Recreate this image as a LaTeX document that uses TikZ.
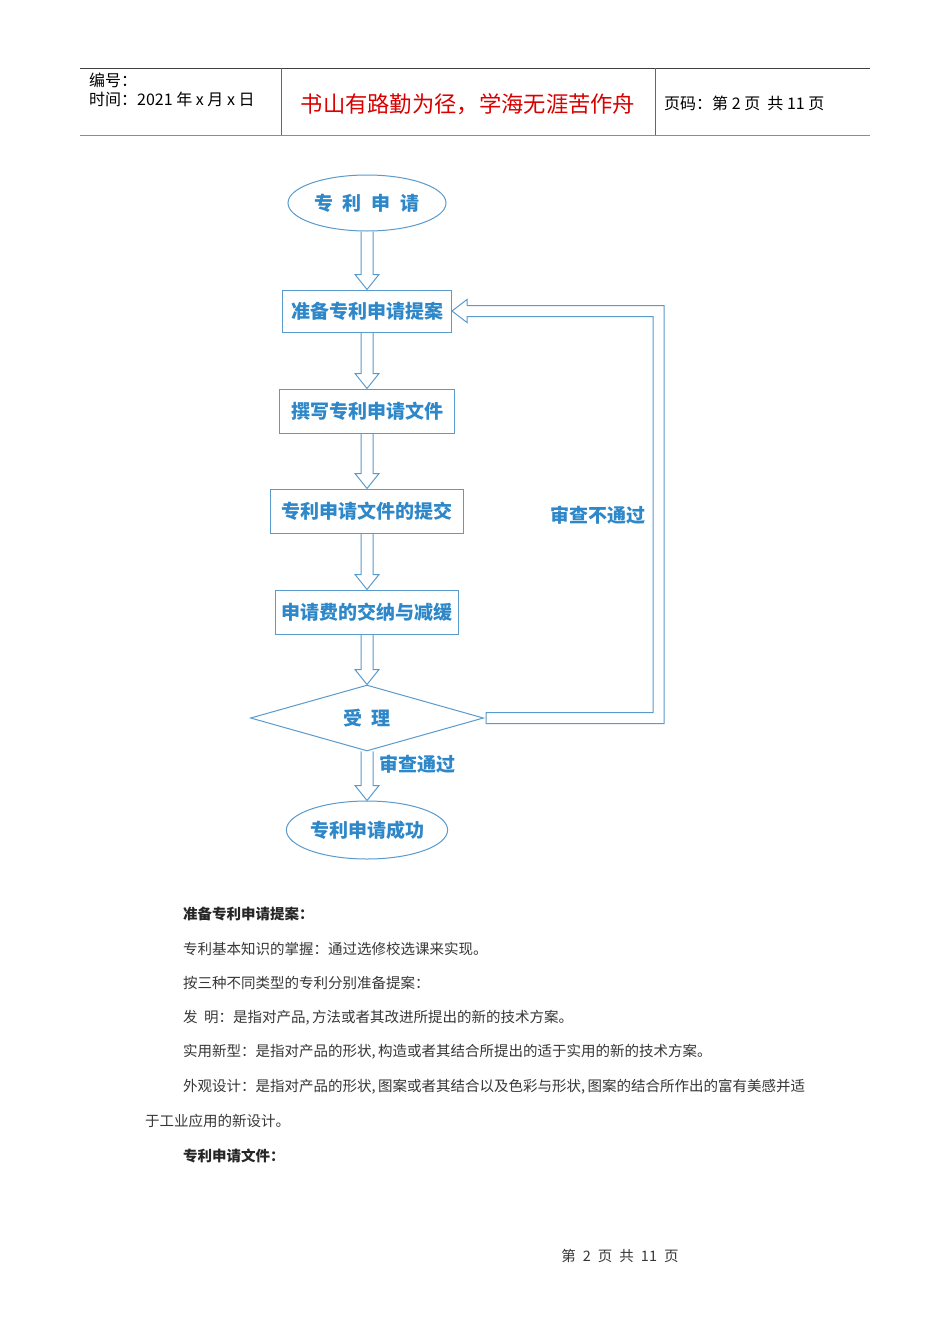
\documentclass[tikz,border=0pt]{standalone}
\usepackage{fontspec}
\setmainfont{Liberation Sans}
\newfontfamily\cjk{Noto Sans CJK SC}
\usetikzlibrary{shapes.geometric,calc}
\definecolor{fltext}{RGB}{45,135,200}
\definecolor{flline}{RGB}{90,155,205}
\definecolor{bodytext}{RGB}{55,55,55}
\tikzset{
  flfont/.style={text=fltext,font=\cjk\bfseries\fontsize{19}{21}\selectfont},
  flbox/.style={draw=flline,line width=1pt,rectangle,inner sep=0pt,flfont},
  flell/.style={draw=flline,line width=1pt,ellipse,inner sep=0pt,flfont},
  fldia/.style={draw=flline,line width=1pt,diamond,inner sep=0pt,flfont},
  blk/.style={draw=flline,line width=1pt,line join=miter},
  fllabel/.style={flfont,inner sep=0pt},
  body/.style={anchor=west,inner sep=0pt,text=bodytext,font=\cjk\fontsize{14.5}{16}\selectfont},
  bodyb/.style={body,text=black!85,font=\cjk\bfseries\fontsize{14.5}{16}\selectfont},
  hdr/.style={anchor=west,inner sep=0pt,text=black,font=\cjk\fontsize{16}{18}\selectfont},
}
\newcommand\blkarrow[2]{%
  \draw[blk] ($(#1.south)+(-6,0)$) -- ($(#2.north)+(-6,-15)$) -- ($(#2.north)+(-12,-15)$) -- (#2.north)
    -- ($(#2.north)+(12,-15)$) -- ($(#2.north)+(6,-15)$) -- ($(#1.south)+(6,0)$);}
\begin{document}
\begin{tikzpicture}[x=1pt,y=-1pt]
\useasboundingbox[fill=white] (0,0) rectangle (950,1344);
% header
\draw[line width=0.8pt,draw=black!75] (80,68) -- (870,68);
\draw[line width=1.8pt,draw=black!45] (80,135.5) -- (870,135.5);
\draw[line width=0.8pt,draw=black!60] (281,68) -- (281,135);
\draw[line width=0.8pt,draw=black!60] (655,68) -- (655,135);
\node[hdr] (h1) at (89,80) {编号：};
\node[hdr] (h2) at (89,99) {时间：2021 年 x 月 x 日};
\node[inner sep=0pt,text=red!85!black,font=\cjk\fontsize{22.3}{24}\selectfont] (h3) at (468,104) {书山有路勤为径，学海无涯苦作舟};
\node[hdr] (h4) at (664,103) {页码：第 2 页\ \ 共 11 页};
% flowchart
\node[flell,minimum width=158,minimum height=56] (e1) at (367,203) {专\hspace{10pt}利\hspace{10pt}申\hspace{10pt}请};
\node[flbox,minimum width=169,minimum height=42] (b1) at (367,311) {准备专利申请提案};
\node[flbox,minimum width=175,minimum height=44] (b2) at (367,411) {撰写专利申请文件};
\node[flbox,minimum width=193,minimum height=44] (b3) at (367,511) {专利申请文件的提交};
\node[flbox,minimum width=183,minimum height=44] (b4) at (367,612) {申请费的交纳与减缓};
\node[fldia,minimum width=233,minimum height=54] (d) at (367,718) {受\hspace{10pt}理};
\node[flell,minimum width=158,minimum height=58] (e2) at (367,830) {专利申请成功};
\blkarrow{e1}{b1}
\blkarrow{b1}{b2}
\blkarrow{b2}{b3}
\blkarrow{b3}{b4}
\blkarrow{b4}{d}
\blkarrow{d}{e2}
\coordinate (r) at (658.5,500);
\draw[blk] ($(d.east)+(2,-5.5)$) -- ($(r |- d.east)+(-5.5,-5.5)$) -- ($(r |- b1.east)+(-5.5,5.5)$)
  -- ($(b1.east)+(15,5.5)$) -- ($(b1.east)+(15,11.5)$) -- (b1.east) -- ($(b1.east)+(15,-11.5)$)
  -- ($(b1.east)+(15,-5.5)$) -- ($(r |- b1.east)+(5.5,-5.5)$) -- ($(r |- d.east)+(5.5,5.5)$)
  -- ($(d.east)+(2,5.5)$) -- cycle;
\node[fllabel] (l1) at (598,515) {审查不通过};
\node[fllabel,anchor=west] (l2) at (379,764) {审查通过};
% body text
\node[bodyb] (t1) at (183,914) {准备专利申请提案：};
\node[body] (t2) at (183,949) {专利基本知识的掌握：通过选修校选课来实现。};
\node[body] (t3) at (183,983) {按三种不同类型的专利分别准备提案：};
\node[body] (t4) at (183,1018) {发\ \ 明：是指对产品,\,方法或者其改进所提出的新的技术方案。};
\node[body] (t5) at (183,1052) {实用新型：是指对产品的形状,\,构造或者其结合所提出的适于实用的新的技术方案。};
\node[body] (t6) at (183,1087) {外观设计：是指对产品的形状,\,图案或者其结合以及色彩与形状,\,图案的结合所作出的富有美感并适};
\node[body] (t7) at (145,1121) {于工业应用的新设计。};
\node[bodyb] (t8) at (183,1156) {专利申请文件：};
\node[body,anchor=center] (f) at (620,1256) {第\hspace{7pt}2\hspace{7pt}页\hspace{7pt}共\hspace{7pt}11\hspace{7pt}页};
\end{tikzpicture}
\end{document}
